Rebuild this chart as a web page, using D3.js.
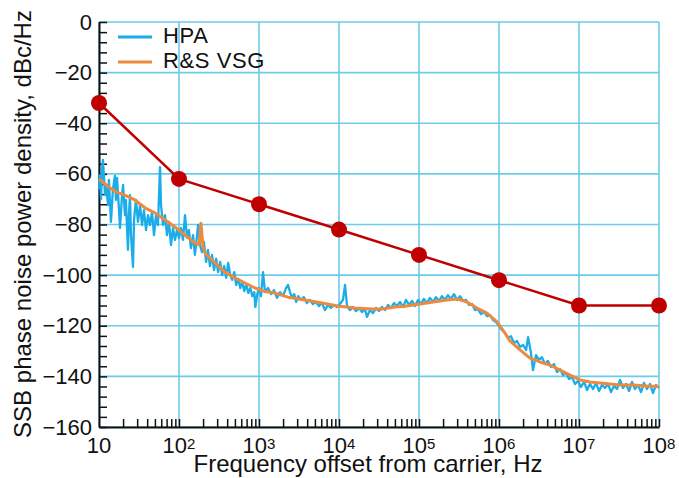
<!DOCTYPE html>
<html>
<head>
<meta charset="utf-8">
<script src="https://cdn.jsdelivr.net/npm/d3@7"></script>
<style>
  body { margin: 0; background: #fff; }
  svg text { font-family: "Liberation Sans", Arial, sans-serif; fill: #111; }
</style>
</head>
<body>
<svg id="chart" width="679" height="478"></svg>
<script>
// limit mask (red)
const limitFreq = [10, 1e2, 1e3, 1e4, 1e5, 1e6, 1e7, 1e8];
const limitDb   = [-32, -62, -72, -82, -92, -102, -112, -112];

// R&S VSG (orange)
const rsFreq = [10, 13, 16, 21, 28, 38, 50, 67, 89, 119, 158, 178, 188, 200, 211, 282, 376, 501, 668, 891,
  1190, 1585, 2300, 3760, 6130, 9700, 15850, 25850, 34500, 50100, 66800, 103000, 150000, 224000, 299000,
  398000, 531000, 708000, 944000, 1.12e6, 1.37e6, 1.83e6, 2.44e6, 3.25e6, 4.34e6, 5.79e6, 7.72e6, 1.03e7,
  1.37e7, 1.83e7, 2.44e7, 3.25e7, 4.73e7, 7.08e7, 1e8];
const rsDb = [-62, -65, -67, -68.4, -70.3, -73.5, -75.4, -78.2, -81, -84.2, -87.3, -88, -79.5, -89, -91.3, -95.2,
  -98.8, -101.1, -103.1, -105.1, -106.5, -107.1, -108.7, -109.8, -111, -112.2, -113, -113.4, -113.4, -112.6,
  -112.3, -111.4, -110.6, -109.8, -109.4, -110.6, -113, -115, -118.5, -121.7, -126, -129.5, -132.8, -134.3,
  -135.5, -137.5, -139.5, -141.4, -142.2, -142.6, -143, -143.4, -143.4, -143.8, -144];

// HPA (blue)
const hpaFreq = [10, 10.3, 10.6, 10.9, 11.2, 11.9, 12.2, 13, 13.3, 14.1, 14.9, 15.8, 16.3, 16.8, 17.8, 18.3,
  19.4, 20, 21.1, 21.7, 23, 23.7, 24.4, 25.1, 26.6, 27.4, 29, 30.7, 32.6, 34.5, 36.5, 38.7, 41, 43.4, 46,
  48.7, 51.6, 54.6, 57.9, 59.6, 63.1, 66.8, 70.8, 75, 79.4, 84.1, 89.1, 94.4, 100,
  106, 112, 119, 126, 133, 141, 150, 158, 168, 173, 183, 194, 205, 218, 230, 244, 259, 274, 291, 308, 327,
  346, 367, 389, 412, 437, 462, 490, 519, 550, 583, 617, 654, 693, 734, 778, 825, 874, 900, 952, 1000, 1059,
  1122, 1189, 1297, 1414, 1540, 1679, 1830, 1995, 2175, 2307, 2443, 2597, 2754, 2917, 3090, 3342, 3633,
  3963, 4320, 4710, 5140, 5620, 6120, 6680, 7260, 7940, 8650, 9440, 10290, 11220, 11900, 12600, 13700,
  15000, 16300, 17800, 19400, 21100, 22400, 24400, 26600, 29000, 31600, 34500, 37600, 41000, 44700, 48700,
  53100, 57900, 63100, 68800, 75000, 81800, 89100, 97200, 106000, 115000, 126000, 137000, 150000, 163000,
  178000, 194000, 211000, 230000, 251000, 274000, 299000, 326000, 355000, 387000, 422000, 460000, 501000,
  546000, 596000, 649000, 708000, 772000, 841000, 917000, 1e6, 1.09e6, 1.19e6, 1.3e6, 1.41e6, 1.54e6,
  1.68e6, 1.83e6, 2e6, 2.18e6, 2.31e6, 2.5e6, 2.66e6, 2.9e6, 3.16e6, 3.44e6, 3.75e6, 4.09e6, 4.46e6, 4.87e6,
  5.31e6, 5.79e6, 6.31e6, 6.88e6, 7.5e6, 8.18e6, 8.91e6, 9.72e6, 1.06e7, 1.16e7, 1.26e7, 1.37e7, 1.5e7,
  1.63e7, 1.78e7, 1.94e7, 2.11e7, 2.31e7, 2.51e7, 2.74e7, 2.99e7, 3.26e7, 3.55e7, 3.87e7, 4.22e7, 4.6e7,
  5.01e7, 5.46e7, 5.96e7, 6.5e7, 7.08e7, 7.72e7, 8.41e7, 9.17e7, 1e8];
const hpaDb = [-66, -60.5, -70, -58.5, -54.5, -68.4, -64.4, -72.3, -62.4, -79, -66.4, -60.8, -70.3, -61.6, -74.3,
  -81.4, -68.4, -64.4, -76.3, -70.3, -90, -76.3, -68.4, -84.2, -96.8, -78.2, -70.3, -79, -72.3, -80.2, -74.3,
  -82.2, -76.3, -80.2, -75.1, -84.2, -76.3, -80.2, -57.3, -72.3, -80.2, -76.3, -84.2, -79, -88.1, -81.4, -86.1,
  -82.2, -85.3,
  -81.4, -86.1, -76.3, -85.3, -82.2, -89.3, -84.2, -92, -84.6, -80.2, -88.1, -90.9, -86.9, -94.8, -90, -96.4,
  -92, -98, -93.5, -98.8, -94.8, -100, -96.4, -101.1, -95.2, -100, -101.9, -98.8, -103.9, -101.5, -105.1,
  -102.7, -106.3, -103.5, -107.1, -105.1, -108.3, -106.7, -112.6, -107.5, -105.1, -108.3, -98.8, -106.7,
  -105.1, -107.5, -105.9, -109, -106.7, -108.3, -105.1, -103.9, -106.7, -109, -107.5, -110.6, -108.3, -109.8,
  -108.7, -111, -109.8, -111.4, -110.6, -112.2, -111, -113.8, -111.8, -113, -111.8, -112.6, -111.4, -109.8,
  -103.9, -112.2, -113.8, -112.6, -114.2, -113, -114.6, -113.4, -116.5, -113.8, -115, -113, -114.2, -112.6,
  -113.8, -111.8, -113, -111, -112.2, -110.6, -112.6, -109.8, -111.8, -110.2, -112.2, -109.8, -111.4, -109.4,
  -111, -109, -110.6, -108.7, -110.2, -108.3, -109.8, -107.9, -109.4, -107.5, -109.8, -108.3, -110.2, -109.8,
  -111.8, -111.4, -113.8, -113.4, -115.4, -114.6, -116.2, -115.8, -117.7, -118.5, -120.1, -121.7, -122.9,
  -124.8, -124.1, -126.8, -126, -128.4, -127.6, -129.6, -124.5, -130.4, -137.5, -131.6, -133.5, -132.4,
  -135.1, -133.9, -136.3, -135.1, -138.3, -137.1, -139.5, -138.7, -141, -140.3, -143, -141.8, -144.2, -142.2,
  -145.4, -143, -145, -142.6, -145.8, -143.4, -144.6, -143, -146.2, -143.8, -145, -141.4, -144.6, -143, -145.8,
  -142.2, -145, -143.4, -146.2, -142.6, -145, -143, -146.6, -143.4, -144.6];

const yTickLabels = [0, -20, -40, -60, -80, -100, -120, -140, -160];
const xDecades = [1, 2, 3, 4, 5, 6, 7, 8];

const svg = d3.select("#chart");
const plotLeft = 99, plotRight = 659, plotTop = 22, plotBottom = 427;

const x = d3.scaleLog().domain([10, 1e8]).range([plotLeft, plotRight]);
const y = d3.scaleLinear().domain([-160, 0]).range([plotBottom, plotTop]);

const gridColor = "#6ccaea";

// grid
svg.append("g").selectAll("line")
  .data(xDecades.map(e => Math.pow(10, e)))
  .join("line")
  .attr("x1", d => x(d)).attr("x2", d => x(d))
  .attr("y1", plotTop).attr("y2", plotBottom)
  .attr("stroke", gridColor).attr("stroke-width", 1.6);

svg.append("g").selectAll("line")
  .data(yTickLabels)
  .join("line")
  .attr("x1", plotLeft).attr("x2", plotRight)
  .attr("y1", d => y(d)).attr("y2", d => y(d))
  .attr("stroke", gridColor).attr("stroke-width", 1.6);

// y axis: inward ticks every 4 dB
const yTicks = d3.range(-160, 1, 4);
const yAxis = svg.append("g")
  .attr("transform", "translate(" + plotLeft + ",0)")
  .call(d3.axisLeft(y)
    .tickValues(yTicks)
    .tickSizeInner(-8)
    .tickSizeOuter(0)
    .tickPadding(7)
    .tickFormat(d => d % 20 === 0 ? (d < 0 ? "\u2212" + (-d) : d) : ""));
yAxis.select(".domain").attr("stroke", "#111").attr("stroke-width", 2);
yAxis.selectAll(".tick line").attr("stroke", "#111").attr("stroke-width", 1.5);
yAxis.selectAll("text").style("font-size", "22px").attr("fill", "#111");

// x axis: inward minor ticks
let xTicks = [];
xDecades.forEach(e => {
  if (e > 1) xTicks.push(Math.pow(10, e));
  if (e < 8) for (let m = 2; m <= 9; m++) xTicks.push(m * Math.pow(10, e));
});
const xAxis = svg.append("g")
  .attr("transform", "translate(0," + plotBottom + ")")
  .call(d3.axisBottom(x)
    .tickValues(xTicks)
    .tickSizeInner(-8)
    .tickSizeOuter(0)
    .tickFormat(""));
xAxis.select(".domain").attr("stroke", "#111").attr("stroke-width", 2);
xAxis.selectAll(".tick line").attr("stroke", "#111").attr("stroke-width", 1.5);

// x tick labels with superscripts
const xl = svg.append("g").selectAll("text")
  .data(xDecades)
  .join("text")
  .attr("x", d => x(Math.pow(10, d)))
  .attr("y", 453)
  .attr("text-anchor", "middle")
  .style("font-size", "22px");
xl.append("tspan").text("10");
xl.filter(d => d > 1).append("tspan")
  .attr("dy", -4)
  .style("font-size", "15px")
  .text(d => d);

// axis titles
svg.append("text")
  .attr("x", 368).attr("y", 472)
  .attr("text-anchor", "middle")
  .style("font-size", "24px")
  .text("Frequency offset from carrier, Hz");

svg.append("text")
  .attr("transform", "translate(31,224) rotate(-90)")
  .attr("text-anchor", "middle")
  .style("font-size", "24px")
  .text("SSB phase noise power density, dBc/Hz");

// series
const line = d3.line().x(d => x(d[0])).y(d => y(d[1]));

svg.append("path")
  .datum(hpaFreq.map((f, i) => [f, hpaDb[i]]))
  .attr("d", line)
  .attr("fill", "none")
  .attr("stroke", "#1badea")
  .attr("stroke-width", 2.3)
  .attr("stroke-linejoin", "round");

svg.append("path")
  .datum(rsFreq.map((f, i) => [f, rsDb[i]]))
  .attr("d", line)
  .attr("fill", "none")
  .attr("stroke", "#ee8a3c")
  .attr("stroke-width", 3)
  .attr("stroke-linejoin", "round");

const limit = limitFreq.map((f, i) => [f, limitDb[i]]);
svg.append("path")
  .datum(limit)
  .attr("d", line)
  .attr("fill", "none")
  .attr("stroke", "#c00000")
  .attr("stroke-width", 2.5);

svg.append("g").selectAll("circle")
  .data(limit)
  .join("circle")
  .attr("cx", d => x(d[0]))
  .attr("cy", d => y(d[1]))
  .attr("r", 8)
  .attr("fill", "#c00000");

// legend
const legend = [["HPA", "#1badea"], ["R&S VSG", "#ee8a3c"]];
const lg = svg.append("g").selectAll("g")
  .data(legend)
  .join("g")
  .attr("transform", (d, i) => "translate(0," + (37 + i * 25) + ")");
lg.append("line")
  .attr("x1", 118).attr("x2", 152)
  .attr("stroke", d => d[1])
  .attr("stroke-width", 3);
lg.append("text")
  .attr("x", 163).attr("y", 6)
  .style("font-size", "22px")
  .style("letter-spacing", "0.6px")
  .text(d => d[0]);
</script>
</body>
</html>
